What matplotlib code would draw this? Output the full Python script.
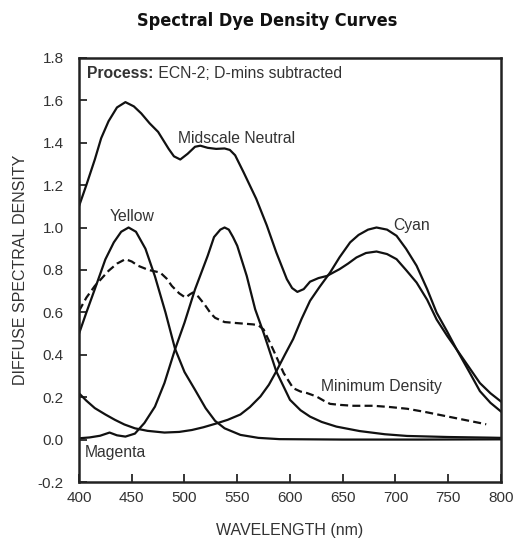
import matplotlib
matplotlib.use('Agg')
import matplotlib.pyplot as plt

# curve values (wavelength nm, density)
neutral_wl = [400, 407, 415, 421, 428, 436, 444, 452, 459, 467, 475, 480, 485, 490, 496, 503, 510, 515,
              522, 530, 538, 543, 548, 556, 568, 578, 587, 597, 602, 607, 613, 619, 627, 635, 647, 655,
              663, 672, 682, 692, 701, 710, 720, 730, 739, 749, 758, 770, 780, 790, 800]
neutral_d = [1.10, 1.20, 1.32, 1.42, 1.50, 1.565, 1.59, 1.57, 1.537, 1.49, 1.45, 1.41, 1.37, 1.335, 1.32,
             1.347, 1.38, 1.385, 1.375, 1.37, 1.372, 1.365, 1.34, 1.26, 1.135, 1.01, 0.883, 0.757, 0.715,
             0.697, 0.71, 0.745, 0.762, 0.772, 0.804, 0.83, 0.859, 0.88, 0.887, 0.875, 0.851, 0.80, 0.741,
             0.66, 0.567, 0.49, 0.426, 0.34, 0.268, 0.22, 0.181]

cyan_wl = [400, 407, 415, 425, 434, 443, 453, 465, 481, 495, 507, 518, 529, 541, 553, 562, 572, 580, 587,
           595, 603, 611, 619, 628, 638, 647, 657, 665, 674, 682, 692, 701, 710, 720, 730, 739, 749, 758,
           770, 780, 790, 800]
cyan_d = [0.22, 0.185, 0.15, 0.12, 0.095, 0.073, 0.055, 0.043, 0.035, 0.038, 0.047, 0.06, 0.076, 0.095,
          0.12, 0.155, 0.205, 0.26, 0.323, 0.40, 0.475, 0.57, 0.655, 0.72, 0.788, 0.86, 0.93, 0.965, 0.99,
          1.0, 0.99, 0.961, 0.90, 0.82, 0.71, 0.599, 0.51, 0.426, 0.32, 0.23, 0.175, 0.134]

yellow_wl = [400, 407, 415, 425, 433, 440, 447, 454, 463, 472, 482, 491, 500, 510, 520, 529, 538, 553,
             570, 590, 650, 720, 800]
yellow_d = [0.50, 0.60, 0.71, 0.85, 0.93, 0.98, 1.0, 0.98, 0.90, 0.77, 0.60, 0.43, 0.32, 0.236, 0.15,
            0.09, 0.055, 0.024, 0.01, 0.004, 0.002, 0.002, 0.003]

magenta_wl = [400, 410, 420, 429, 436, 444, 453, 462, 472, 481, 491, 500, 510, 522, 528, 534, 538, 542,
              546, 550, 559, 567, 575, 587, 600, 610, 619, 630, 644, 666, 690, 711, 750, 790, 800]
magenta_d = [0.008, 0.012, 0.02, 0.035, 0.022, 0.016, 0.03, 0.08, 0.157, 0.268, 0.426, 0.552, 0.709,
             0.867, 0.955, 0.99, 1.0, 0.99, 0.955, 0.914, 0.772, 0.615, 0.504, 0.323, 0.189, 0.14, 0.11,
             0.085, 0.063, 0.042, 0.027, 0.019, 0.014, 0.011, 0.01]

dmin_wl = [400, 407, 415, 428, 436, 444, 450, 456, 466, 477, 483, 488, 495, 501, 505, 508, 513, 519, 525,
           529, 538, 550, 565, 570, 575, 584, 594, 603, 610, 616, 625, 632, 638, 648, 660, 679, 695, 711,
           727, 742, 765, 786]
dmin_d = [0.607, 0.67, 0.725, 0.796, 0.83, 0.851, 0.84, 0.82, 0.80, 0.788, 0.76, 0.725, 0.69, 0.67, 0.685,
          0.694, 0.675, 0.638, 0.595, 0.575, 0.555, 0.55, 0.544, 0.54, 0.52, 0.426, 0.315, 0.244, 0.228,
          0.221, 0.205, 0.185, 0.17, 0.165, 0.161, 0.161, 0.155, 0.147, 0.133, 0.118, 0.095, 0.074]

x_ticks = [400, 450, 500, 550, 600, 650, 700, 750, 800]
y_ticks = [-0.2, 0.0, 0.2, 0.4, 0.6, 0.8, 1.0, 1.2, 1.4, 1.6, 1.8]

txt_col = '#333333'
plt.rcParams['font.family'] = ['Liberation Sans', 'DejaVu Sans']

fig = plt.figure(figsize=(5.19, 5.40), dpi=100)
ax = fig.add_axes([0.1522, 0.1065, 0.8131, 0.787])

lw = 1.6
ax.plot(neutral_wl, neutral_d, color='#111111', lw=lw)
ax.plot(cyan_wl, cyan_d, color='#111111', lw=lw)
ax.plot(yellow_wl, yellow_d, color='#111111', lw=lw)
ax.plot(magenta_wl, magenta_d, color='#111111', lw=lw)
ax.plot(dmin_wl, dmin_d, color='#111111', lw=lw, linestyle=(0, (3.6, 1.9)))

ax.set_xlim(400, 800)
ax.set_ylim(-0.2, 1.8)
ax.set_xticks(x_ticks)
ax.set_yticks(y_ticks)
ax.set_xticklabels([str(v) for v in x_ticks])
ax.set_yticklabels(['%.1f' % v for v in y_ticks])
ax.tick_params(axis='y', direction='in', length=5.5, width=1.1, pad=11, labelsize=11, labelcolor=txt_col)
ax.tick_params(axis='x', direction='in', length=5.5, width=1.1, pad=6, labelsize=11, labelcolor=txt_col)
for s in ax.spines.values():
    s.set_linewidth(1.8)
    s.set_color('#222222')

ax.set_xlabel('WAVELENGTH (nm)', fontsize=11.5, color=txt_col, labelpad=13)
ax.set_ylabel('DIFFUSE SPECTRAL DENSITY', fontsize=11.5, color=txt_col, labelpad=7)

# curve labels
ax.text(494, 1.42, 'Midscale Neutral', fontsize=11.3, color=txt_col, va='center')
ax.text(429, 1.05, 'Yellow', fontsize=11.3, color=txt_col, va='center')
ax.text(698, 1.01, 'Cyan', fontsize=11.3, color=txt_col, va='center')
ax.text(405, -0.06, 'Magenta', fontsize=11.3, color=txt_col, va='center')
ax.text(629, 0.254, 'Minimum Density', fontsize=11.3, color=txt_col, va='center')
t = ax.text(408, 1.727, 'Process:', fontsize=11.3, color=txt_col, va='center', fontweight='bold')
ax.annotate(' ECN-2; D-mins subtracted', xycoords=t, xy=(1, 0), va='bottom', fontsize=11.3, color=txt_col)

fig.text(0.515, 0.961, 'Spectral Dye Density Curves', ha='center', va='center', fontsize=13,
         fontweight='bold', fontstretch='condensed', family=['DejaVu Sans'], color='#111111')

fig.savefig('out.png', dpi=100)
